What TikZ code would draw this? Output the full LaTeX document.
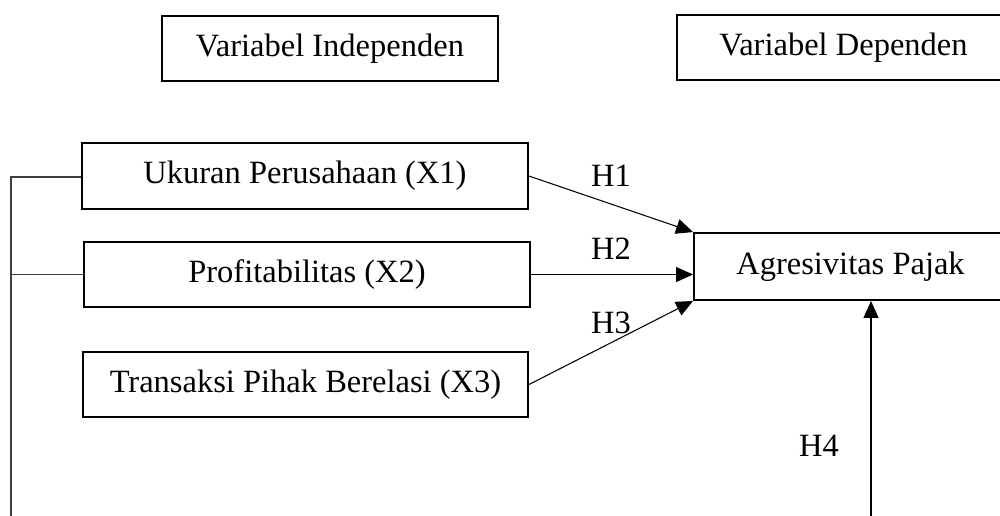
\documentclass[tikz,border=0pt]{standalone}
\usepackage{fontspec}
\setmainfont{Liberation Serif}
\usetikzlibrary{arrows.meta, positioning}
\tikzset{box/.style={rectangle,draw,line width=1.1pt,align=center,inner sep=0pt,font=\fontsize{18.5}{22}\selectfont},
  line/.style={-{Triangle[length=0.34cm,width=0.3cm]},line width=0.6pt},
  link/.style={line width=0.6pt,draw=black!75},
  lbl/.style={inner sep=0pt,font=\fontsize{18.5}{22}\selectfont}}

\begin{document}
\begin{tikzpicture}[x=0.02cm,y=-0.02cm]
\useasboundingbox (0,0) rectangle (1000,515);
\clip (0,0) rectangle (1000,515);
\node[box, minimum width=6.72cm, minimum height=1.3cm] (vi) at (330,48.5) {Variabel Independen};
\node[box, minimum width=6.66cm, minimum height=1.3cm] (vd) at (843.5,47.5) {Variabel Dependen};
\node[box, minimum width=8.92cm, minimum height=1.32cm] (x1) at (305,176) {Ukuran Perusahaan (X1)};
\node[box, minimum width=8.92cm, minimum height=1.3cm] (x2) at (307,274.5) {Profitabilitas (X2)};
\node[box, minimum width=8.9cm, minimum height=1.3cm] (x3) at (305.5,384.5) {Transaksi Pihak Berelasi (X3)};
\node[box, minimum width=6.26cm, minimum height=1.34cm] (ap) at (850.5,266.5) {Agresivitas Pajak};
\node[lbl] (h1) at (611,175.5) {H1};
\node[lbl] (h2) at (611,248.5) {H2};
\node[lbl] (h3) at (611,322.5) {H3};
\node[lbl] (h4) at (819,446) {H4};
\coordinate (ltop) at (11,177);
\coordinate (lbot) at (11,520);
\coordinate (h4base) at (871,520);
\draw[line] (x1.east) -- (ap.north west);
\draw[line] (x2.east) -- (x2.east -| ap.west);
\draw[line] (x3.east) -- (ap.south west);
\draw[line] (h4base) -- (h4base |- ap.south);
\draw[link] (lbot) -- (ltop) -- (ltop -| x1.west);
\draw[link] (x2.west) -- (x2.west -| ltop);
\end{tikzpicture}
\end{document}
